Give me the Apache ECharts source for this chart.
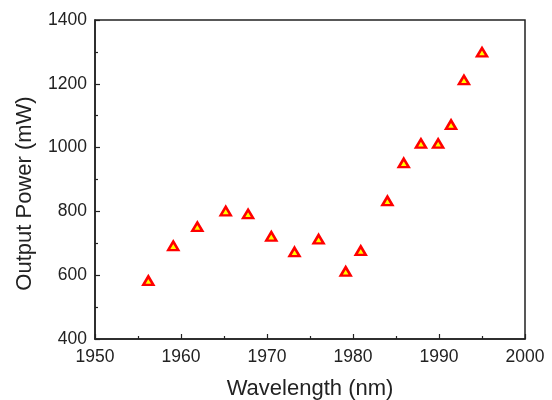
<!DOCTYPE html>
<html>
<head>
<meta charset="utf-8">
<script src="https://cdn.jsdelivr.net/npm/echarts@6/dist/echarts.min.js"></script>
<style>html,body{margin:0;padding:0;background:#fff;}#c{width:552px;height:400px;}</style>
</head>
<body>
<div id="c"></div>
<script>
var wavelengths = [1956.2, 1959.1, 1961.9, 1965.2, 1967.8, 1970.5, 1973.2, 1976.0, 1979.15, 1980.9, 1984.0, 1985.9, 1987.9, 1989.9, 1991.4, 1992.9, 1995.0];
var powers = [583, 692, 752, 801, 792, 722, 673, 713, 612, 677, 833, 952, 1013, 1013, 1072, 1212, 1299];
var xTicks = [1950, 1960, 1970, 1980, 1990, 2000];
var yTicks = [400, 600, 800, 1000, 1200, 1400];

var data = wavelengths.map(function (w, i) { return [w, powers[i]]; });
var chart = echarts.init(document.getElementById('c'));
var font = 'Liberation Sans, Arial, sans-serif';
function plain(v) { return String(v); }
chart.setOption({
  animation: false,
  backgroundColor: '#fff',
  grid: { left: 95, right: 27, top: 20, bottom: 61, outerBoundsMode: 'none', containLabel: false, show: true, borderColor: '#222', borderWidth: 1.5, backgroundColor: 'transparent' },
  xAxis: {
    type: 'value', min: xTicks[0], max: xTicks[xTicks.length - 1], interval: 10,
    name: 'Wavelength (nm)', nameLocation: 'middle', nameGap: 39,
    nameTextStyle: { fontFamily: font, fontSize: 22, color: '#222' },
    axisLine: { show: true, lineStyle: { color: '#222', width: 1.5 } },
    axisTick: { show: true, inside: true, length: 5, lineStyle: { color: '#222', width: 1.2 } },
    minorTick: { show: true, splitNumber: 2, length: 3, lineStyle: { color: '#222', width: 1.2 } },
    axisLabel: { fontFamily: font, fontSize: 17.5, color: '#222', margin: 9, formatter: plain },
    splitLine: { show: false }
  },
  yAxis: {
    type: 'value', min: yTicks[0], max: yTicks[yTicks.length - 1], interval: 200,
    name: 'Output Power (mW)', nameLocation: 'middle', nameGap: 59,
    nameTextStyle: { fontFamily: font, fontSize: 22, color: '#222', padding: [0, 28, 0, 0] },
    axisLine: { show: true, lineStyle: { color: '#222', width: 1.5 } },
    axisTick: { show: true, inside: true, length: 5, lineStyle: { color: '#222', width: 1.2 } },
    minorTick: { show: true, splitNumber: 2, length: 3, lineStyle: { color: '#222', width: 1.2 } },
    axisLabel: { fontFamily: font, fontSize: 17.5, color: '#222', margin: 8, formatter: plain },
    splitLine: { show: false }
  },
  series: [{
    type: 'scatter', data: data, symbol: 'triangle', symbolSize: [10, 8.5],
    itemStyle: { color: '#ffff00', borderColor: '#ff0000', borderWidth: 2.5, opacity: 1 }
  }]
});
</script>
</body>
</html>
